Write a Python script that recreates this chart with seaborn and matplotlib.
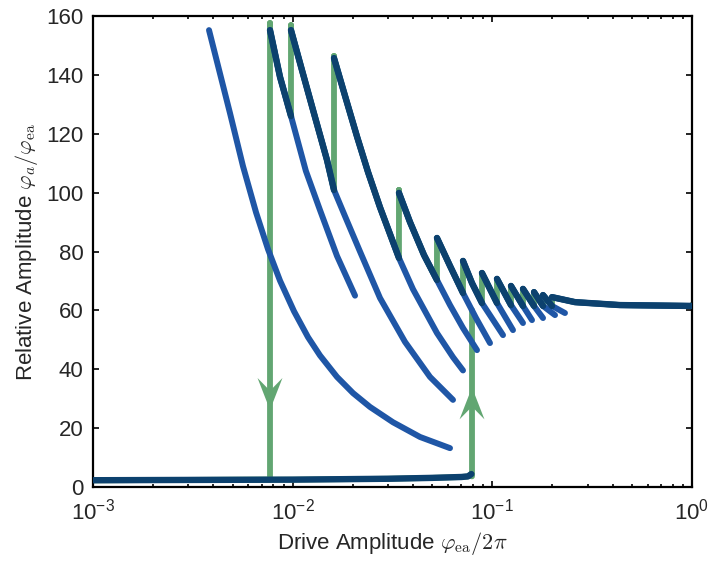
import numpy as np
import pandas as pd
import matplotlib
matplotlib.use("Agg")
import matplotlib.pyplot as plt
import seaborn as sns
from matplotlib.path import Path

# ---------------- data ----------------
# bottom (low-amplitude) branch
b0_x = [0.001, 0.003, 0.01, 0.03, 0.05, 0.07, 0.0755, 0.0785]
b0_y = [2.3, 2.4, 2.5, 2.8, 3.1, 3.4, 3.6, 4.4]

# upper branches (each starts at its left end / top)
b1_x = [0.003811, 0.004854, 0.005638, 0.006553, 0.007523, 0.008641, 0.010155, 0.011934, 0.01370, 0.01667, 0.02006, 0.02439, 0.03180, 0.04343, 0.06138]
b1_y = [155.2, 127.0, 109.0, 93.3, 80.8, 70.1, 59.7, 50.9, 44.7, 37.4, 31.9, 27.2, 22.0, 17.0, 13.2]
b2_x = [0.007700, 0.008641, 0.009808, 0.01164, 0.01370, 0.01667, 0.02053]
b2_y = [155.2, 139.3, 126.0, 107.4, 94.1, 78.5, 65.0]
b3_x = [0.009808, 0.011134, 0.012642, 0.014852, 0.016106, 0.018285, 0.021734, 0.02738, 0.03652, 0.04873, 0.06353]
b3_y = [155.2, 141.6, 128.1, 111.1, 100.9, 92.0, 80.0, 64.2, 49.3, 37.4, 29.6]
b4_x = [0.016106, 0.018285, 0.02101, 0.02384, 0.02738, 0.03407, 0.04005, 0.05281, 0.06353, 0.07130]
b4_y = [145.7, 132.9, 119.0, 107.0, 95.0, 77.8, 67.2, 52.3, 44.1, 39.6]
b5_x = [0.03407, 0.03869, 0.04547, 0.05281, 0.06138, 0.07130, 0.08380]
b5_y = [99.9, 90.0, 78.8, 70.3, 61.8, 54.0, 46.5]
b6_x = [0.05281, 0.06138, 0.07130, 0.08284, 0.09734]
b6_y = [84.6, 75.1, 65.9, 57.4, 48.9]
b7_x = [0.07130, 0.07906, 0.08874, 0.1131]
b7_y = [76.8, 69.3, 62.5, 51.6]
b8_x = [0.08874, 0.1055, 0.1269]
b8_y = [72.7, 62.5, 53.3]
b9_x = [0.1055, 0.1240, 0.1424]
b9_y = [70.7, 61.8, 55.7]
b10_x = [0.1240, 0.1424, 0.1580]
b10_y = [68.3, 61.5, 56.7]
b11_x = [0.1424, 0.1617, 0.1794]
b11_y = [67.3, 61.5, 57.4]
b12_x = [0.1617, 0.1794, 0.2060]
b12_y = [66.2, 61.5, 58.4]
b13_x = [0.1794, 0.1990, 0.2311]
b13_y = [65.2, 61.5, 59.1]
b14_x = [0.1990, 0.2594, 0.4358, 1.0]
b14_y = [64.5, 62.8, 61.8, 61.5]

# sweep (green) extra points
sweep_right = (1.0, 61.9)
green_peak_y = [157.6, 156.9, 146.4, 100.9]   # green overshoot at the tops of branches 2-5
jump_down_x = 0.0077
jump_up_x = 0.0791
jump_up_top = 60.1

# arrow heads on the jumps
arrow_down = (0.0077, 31.6)
arrow_up = (0.0791, 28.4)

xticks = [1e-3, 1e-2, 1e-1, 1e0]
yticks = [0, 20, 40, 60, 80, 100, 120, 140, 160]

GREEN = "#62a672"
BLUE = "#1f56a6"
NAVY = "#0c416e"

# ---------------- style ----------------
sns.set_style("ticks")
plt.rcParams["font.family"] = ["Liberation Sans", "DejaVu Sans"]
plt.rcParams["mathtext.fontset"] = "cm"

fig = plt.figure(figsize=(7.15, 5.68), dpi=100)
ax = fig.add_axes([93 / 715, 1 - 487 / 568, (692 - 93) / 715, (487 - 16) / 568])

branches = [
    (b1_x, b1_y), (b2_x, b2_y), (b3_x, b3_y), (b4_x, b4_y), (b5_x, b5_y),
    (b6_x, b6_y), (b7_x, b7_y), (b8_x, b8_y), (b9_x, b9_y), (b10_x, b10_y),
    (b11_x, b11_y), (b12_x, b12_y), (b13_x, b13_y), (b14_x, b14_y),
]

# navy (traversed) parts: branch k from its top to the start of branch k+1
navy_segs = []
for k in range(1, len(branches)):
    bx, by = np.array(branches[k][0]), np.array(branches[k][1])
    if k + 1 < len(branches):
        lim = branches[k + 1][0][0]
        m = bx <= lim * 1.0001
    else:
        m = np.ones(len(bx), bool)
    navy_segs.append((bx[m], by[m]))

# green sweep down: from right to left through the navy segments
gdx = [sweep_right[0]]
gdy = [sweep_right[1]]
for i in range(len(navy_segs) - 1, -1, -1):
    sx, sy = navy_segs[i]
    gdx += list(sx[::-1])
    gdy += list(sy[::-1])
    if i < len(green_peak_y):
        gdx.append(sx[0])
        gdy.append(green_peak_y[i])
gdx += [jump_down_x, b0_x[0]]
gdy += [b0_y[2], b0_y[0]]
# green sweep up
gux = list(b0_x) + [jump_up_x, jump_up_x]
guy = list(b0_y) + [b0_y[-2], jump_up_top]

lw_g, lw_b, lw_n = 4.2, 4.3, 4.6

def line(x, y, color, lw, z, alpha=1.0):
    df = pd.DataFrame({"x": x, "y": y})
    sns.lineplot(data=df, x="x", y="y", sort=False, estimator=None, color=color,
                 lw=lw, ax=ax, zorder=z, alpha=alpha, solid_capstyle="round",
                 solid_joinstyle="round")

line(gdx, gdy, GREEN, lw_g, 2)
line(gux, guy, GREEN, lw_g, 2)
for bx, by in branches:
    line(bx, by, BLUE, lw_b, 3)
for sx, sy in navy_segs:
    line(sx, sy, NAVY, lw_n, 4)
line(b0_x, b0_y, NAVY, lw_n, 4)

# arrow heads (notched triangles)
down_path = Path([(0, -1), (-0.78, 1), (0, 0.2), (0.78, 1), (0, -1)],
                 [Path.MOVETO, Path.LINETO, Path.LINETO, Path.LINETO, Path.CLOSEPOLY])
up_path = Path([(0, 1), (-0.78, -1), (0, -0.2), (0.78, -1), (0, 1)],
               [Path.MOVETO, Path.LINETO, Path.LINETO, Path.LINETO, Path.CLOSEPOLY])
sns.scatterplot(x=[arrow_down[0]], y=[arrow_down[1]], marker=down_path, s=23 ** 2,
                color=GREEN, edgecolor="none", ax=ax, zorder=5)
sns.scatterplot(x=[arrow_up[0]], y=[arrow_up[1]], marker=up_path, s=23 ** 2,
                color=GREEN, edgecolor="none", ax=ax, zorder=5)

ax.set_xscale("log")
ax.set_xlim(1e-3, 1)
ax.set_ylim(0, 160)
ax.set_xticks(xticks)
ax.set_yticks(yticks)
ax.tick_params(which="both", direction="in", top=True, right=True, labelsize=16, width=1.2, color="black")
ax.tick_params(which="major", length=4)
ax.tick_params(which="minor", length=2.5)
ax.tick_params(axis="y", pad=7)
ax.tick_params(axis="x", pad=8)
for s in ax.spines.values():
    s.set_linewidth(1.6)
    s.set_color("black")

ax.set_xlabel(r"Drive Amplitude $\varphi_{\mathrm{ea}}/2\pi$", fontsize=16)
ax.set_ylabel(r"Relative Amplitude $\varphi_a/\varphi_{\mathrm{ea}}$", fontsize=16)

fig.savefig("out.png", dpi=100)
